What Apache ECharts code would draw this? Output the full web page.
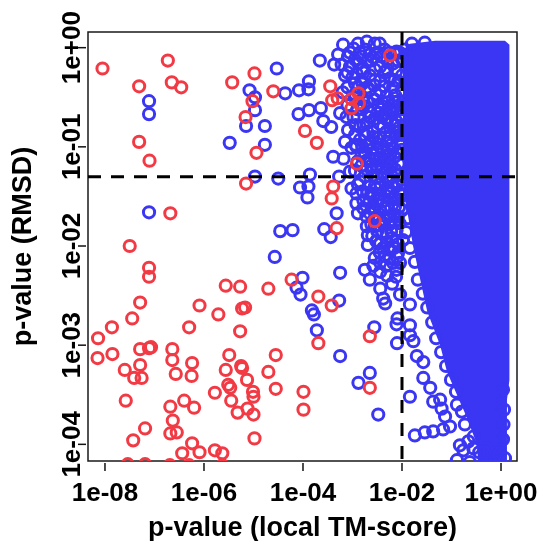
<!DOCTYPE html>
<html><head><meta charset="utf-8">
<script src="https://cdn.jsdelivr.net/npm/echarts@6/dist/echarts.min.js"></script>
<style>html,body{margin:0;padding:0;background:#fff}#c{width:542px;height:541px}</style>
</head><body><div id="c"></div>
<script>
// All values are log10(p-value)
const xTickVals = [-8, -6, -4, -2, 0];
const xTickLabels = ['1e-08', '1e-06', '1e-04', '1e-02', '1e+00'];
const yTickVals = [-4, -3, -2, -1, 0];
const yTickLabels = ['1e-04', '1e-03', '1e-02', '1e-01', '1e+00'];
const pCutoffTM = 0.01;
const pCutoffRMSD = 0.05;

// red circles: [log10 p(local TM-score), log10 p(RMSD)]
const redPts = [
[-8.05,-0.21],[-7.31,-0.39],[-6.73,-0.13],[-6.65,-0.35],[-6.46,-0.40],[-5.43,-0.35],[-4.98,-0.26],[-5.02,-0.54],[-5.16,-0.70],[-4.60,-0.44],
[-7.31,-0.95],[-7.10,-1.14],[-4.94,-1.06],[-5.15,-1.37],[-6.68,-1.67],[-7.50,-2.00],[-7.11,-2.22],[-7.11,-2.31],
[-5.56,-2.40],[-5.27,-2.41],[-4.70,-2.43],[-7.29,-2.57],[-6.09,-2.60],[-5.71,-2.69],[-5.23,-2.63],[-5.17,-2.62],[-7.45,-2.73],[-7.86,-2.82],[-6.30,-2.82],[-5.27,-2.86],[-8.14,-2.93],
[-7.29,-3.04],[-7.11,-3.03],[-7.07,-3.02],[-6.64,-3.04],[-8.15,-3.13],[-7.85,-3.09],[-6.64,-3.15],[-5.49,-3.10],[-4.55,-3.10],[-7.29,-3.20],[-6.24,-3.18],[-5.25,-3.21],[-5.23,-3.23],[-7.60,-3.25],[-5.56,-3.25],[-4.70,-3.27],[-7.41,-3.33],[-7.26,-3.33],[-6.57,-3.29],[-6.25,-3.31],[-5.13,-3.35],[-5.51,-3.40],[-5.47,-3.43],[-4.55,-3.44],[-5.78,-3.48],[-5.01,-3.47],[-5.00,-3.52],
[-7.58,-3.56],[-6.40,-3.56],[-5.45,-3.56],[-6.68,-3.62],[-6.20,-3.63],[-5.12,-3.64],[-5.32,-3.68],[-5.00,-3.70],[-6.63,-3.76],[-7.19,-3.84],[-6.68,-3.89],[-6.55,-3.88],[-4.98,-3.94],[-7.43,-3.96],[-6.24,-3.99],[-6.44,-4.09],[-6.09,-4.08],[-5.78,-4.06],[-5.63,-4.09],
[-7.54,-4.20],[-7.19,-4.20],[-6.69,-4.21],[-6.30,-4.21],[-5.63,-4.21],
[-3.96,-0.84],[-3.72,-0.96],[-3.45,-0.39],[-3.41,-0.53],[-3.30,-0.51],[-3.02,-0.52],[-2.88,-0.46],[-2.87,-0.56],[-3.02,-0.61],[-2.24,-0.08],[-2.91,-1.17],[-3.39,-1.40],[-3.42,-1.52],[-3.32,-1.82],[-2.55,-1.75],
[-4.23,-2.34],[-3.69,-2.51],[-3.42,-2.60],[-3.69,-2.98],[-2.65,-2.91],[-3.99,-3.47],[-3.99,-3.65],[-2.65,-3.43]
];

// blue circles that can be told apart
const bluePts = [
[-7.11,-0.54],[-7.11,-0.67],[-4.53,-0.21],[-5.08,-0.43],[-4.97,-0.50],[-4.97,-0.63],[-5.15,-0.79],[-4.77,-0.79],[-5.48,-0.96],[-4.77,-0.98],[-4.97,-1.30],[-4.50,-1.32],[-7.11,-1.66],[-4.46,-1.85],[-4.57,-2.11],
[-3.66,-0.13],[-4.36,-0.46],[-4.08,-0.43],[-3.89,-0.42],[-3.88,-0.34],[-4.09,-0.67],[-3.88,-0.63],[-3.64,-0.61],[-3.59,-0.74],[-3.43,-0.80],[-3.39,-1.10],[-3.25,-0.66],[-3.37,-0.17],[-3.29,-0.07],
[-3.86,-1.28],[-3.27,-1.30],[-4.06,-1.41],[-3.89,-1.40],[-3.91,-1.51],[-4.21,-1.84],[-3.57,-1.83],[-3.44,-1.91],[-3.32,-1.67],
[-3.25,-2.27],[-4.01,-2.32],[-4.13,-2.42],[-4.05,-2.49],[-3.27,-2.55],[-3.82,-2.65],[-3.78,-2.69],[-3.72,-2.85],[-3.25,-3.11],[-2.65,-3.28],[-2.88,-3.38],[-2.48,-3.70],[-2.56,-2.82],
[-3.02,-1.01],[-3.02,-1.42],[-2.89,-1.38],[-2.79,-1.45],[-2.62,-1.47],[-2.92,-1.57],[-2.89,-1.67],[-2.72,-1.70],[-2.55,-1.62],[-2.35,-1.74],[-2.69,-1.89],[-2.55,-1.80],[-2.69,-1.99],[-2.45,-2.06],[-2.08,-2.07],[-2.28,-1.35],[-2.15,-1.52],[-2.15,-1.69],[-1.88,-1.72],
[-2.75,-2.24],[-2.65,-2.34],[-2.44,-2.07],[-2.44,-2.17],[-2.38,-2.53],[-2.34,-2.58],[-2.20,-2.38],[-2.09,-2.73],[-2.11,-2.79],[-2.44,-2.26],[-2.44,-2.43],[-2.10,-2.98],[-2.11,-2.24],[-2.04,-2.17],[-2.04,-2.49],
[-1.84,-3.52],[-1.74,-3.91],[-1.57,-3.33],[-1.43,-3.43],[-1.37,-3.57],[-1.54,-3.88],[-1.37,-3.87],[-1.17,-3.85],[-1.77,-2.96],[-1.70,-3.11],[-1.84,-2.59],[-1.84,-2.80],[-1.84,-2.90],[-1.57,-3.17],[-1.20,-3.64],[-1.23,-3.55],[-0.89,-3.60],[-0.73,-3.80],[-1.13,-3.72],[-1.03,-3.82],[-0.83,-4.01],[-0.66,-3.97],[-0.56,-4.04],[-0.02,-4.09],[-0.29,-4.04],[-0.76,-4.06],[-0.02,-3.60],[0.05,-3.80],
[-0.89,-4.16],[-0.63,-4.18],[-0.32,-4.16],[-0.12,-4.18],[0.08,-4.14],
[-3.09,-0.83],[-2.35,-0.02],[-2.05,-0.05],
[-2.98,-0.01],[-2.75,-0.02],[-2.65,-0.07],[-2.11,-0.04],[-3.22,-0.17],[-3.05,-0.19],[-2.88,-0.16],[-2.71,-0.14],[-2.44,-0.19],[-2.18,-0.16],[-3.15,-0.28],[-2.92,-0.26],[-2.65,-0.28],[-2.44,-0.33],[-2.24,-0.31],[-2.07,-0.34],[-2.65,-0.43],[-2.44,-0.44],[-2.31,-0.49],[-2.14,-0.48],[-2.07,-0.54],[-2.78,-0.59],[-2.65,-0.65],[-2.48,-0.59],[-2.34,-0.66],[-2.18,-0.63],[-2.04,-0.68],[-2.98,-0.70],[-2.85,-0.80],[-2.71,-0.76],[-2.58,-0.85],[-2.38,-0.80],[-2.24,-0.85],[-2.07,-0.81],[-2.85,-0.93],[-2.65,-0.96],[-2.51,-1.03],[-2.31,-0.95],[-2.18,-1.01],[-2.04,-0.96],[-2.75,-1.06],[-2.65,-1.13],[-2.44,-1.11],[-2.24,-1.08],[-2.07,-1.17],[-2.71,-1.23],[-2.51,-1.20],[-2.31,-1.22],[-2.14,-1.23],[-2.85,-1.35],[-2.65,-1.40],[-2.44,-1.37],[-2.31,-1.43],[-2.11,-1.38],[-2.78,-1.54],[-2.58,-1.50],[-2.38,-1.55],[-2.65,-1.67],[-2.44,-1.64],[-2.24,-1.70],[-2.71,-1.80],[-2.31,-1.87],[-2.11,-1.84],[-2.44,-1.97],[-2.24,-2.04],[-2.18,-2.17],
[-2.95,-0.36],[-2.80,-0.36],[-2.56,-0.38],[-2.80,-0.52],[-2.56,-0.52],[-2.28,-0.55],[-2.90,-0.62],[-2.56,-0.72],[-2.30,-0.73],[-2.12,-0.74],[-2.95,-0.88],[-2.75,-0.88],[-2.45,-0.90],[-2.12,-0.89],[-2.80,-1.00],[-2.38,-1.03],[-2.10,-1.05],[-2.90,-1.15],[-2.55,-1.12],[-2.36,-1.15],[-2.95,-1.24],[-2.58,-1.29],[-2.40,-1.28],[-2.20,-1.30],[-2.52,-1.42],[-2.22,-1.45],[-2.66,-1.56],[-2.50,-1.58],[-2.30,-1.60],[-2.14,-1.60],[-2.55,-1.72],[-2.40,-1.76],[-2.14,-1.76],[-2.60,-1.90],[-2.40,-1.88],[-2.20,-1.92],[-2.08,-1.98],[-2.35,-2.10],[-2.58,-0.10],[-2.30,-0.22],[-2.80,-0.22],[-3.00,-0.30],[-3.10,-0.40],[-2.95,-0.50],[-3.12,-0.70],[-2.92,-1.00],
[-3.05,-0.05],[-2.85,-0.05],[-2.50,-0.05],[-2.25,-0.05],[-2.15,-0.06],
[-3.10,-0.25],[-2.78,-0.25],[-2.35,-0.25],[-2.12,-0.24],
[-2.88,-0.40],[-2.70,-0.40],[-2.35,-0.39],[-2.18,-0.40],
[-2.95,-0.47],[-2.52,-0.47],
[-2.80,-0.62],[-2.42,-0.62],[-2.25,-0.61],[-2.10,-0.62],
[-2.66,-0.70],[-2.40,-0.70],
[-2.94,-0.78],[-2.78,-0.78],[-2.45,-0.77],[-2.15,-0.78],
[-2.58,-0.90],[-2.25,-0.91],
[-2.94,-0.98],[-2.70,-0.98],[-2.50,-0.97],[-2.22,-0.98],
[-2.82,-1.09],[-2.58,-1.08],[-2.35,-1.09],[-2.15,-1.10],
[-2.82,-1.19],[-2.62,-1.19],[-2.40,-1.20],[-2.22,-1.18],
[-2.75,-1.30],[-2.50,-1.31],[-2.30,-1.30],[-2.08,-1.29],
[-2.92,-1.47],[-2.70,-1.47],[-2.45,-1.48],[-2.25,-1.47],[-2.06,-1.46],
[-2.78,-1.62],[-2.60,-1.63],[-2.36,-1.62],[-2.06,-1.61],
[-2.62,-1.78],[-2.45,-1.79],[-2.25,-1.78],[-2.05,-1.77],
[-2.52,-1.95],[-2.30,-1.96],[-2.12,-1.95],
[-2.55,-2.12],[-2.25,-2.12],[-2.10,-2.11],
[-2.30,-2.30],[-2.12,-2.31],
[-2.62,-0.13],[-2.30,-0.13],[-2.08,-0.13],
[-2.82,-0.33],[-2.55,-0.33],[-2.15,-0.33],
[-2.70,-0.55],[-2.40,-0.55],[-2.16,-0.55],
[-2.50,-0.66],[-2.22,-0.66],
[-2.70,-0.85],[-2.32,-0.85],[-2.14,-0.85],
[-2.62,-1.03],[-2.28,-1.03],
[-2.72,-1.14],[-2.48,-1.14],[-2.28,-1.14],
[-2.60,-1.25],
[-2.55,-1.40],[-2.20,-1.40],
[-2.50,-1.53],[-2.24,-1.53],[-2.08,-1.53],
[-2.50,-1.70],[-2.32,-1.70],[-2.08,-1.70],
[-2.50,-1.85],[-2.22,-1.85],
[-2.38,-2.02],[-2.16,-2.02],
[-2.32,-2.20],[-2.58,-2.20],
[-3.15,-0.95],[-3.18,-1.12],[-3.05,-1.25],[-3.10,-0.58],[-3.20,-0.45],
[-3.19,0.03],[-2.89,0.04],[-3.09,-0.09],[-2.81,-0.09],[-2.95,-0.12],[-2.42,-0.09],[-2.55,-0.22],[-2.71,0.06],[-2.55,0.04],[-2.45,0.04],
[-1.80,0.04],[-1.54,0.05],[-1.94,-0.02],
[-2.00,-0.12],[-2.00,-0.28],[-2.00,-0.43],[-2.00,-0.58],[-2.00,-0.73],[-2.00,-0.88],[-2.00,-1.03],[-2.00,-1.18],[-2.00,-1.33],[-1.99,-1.49],[-2.00,-1.64],[-1.98,-1.94],
[-1.92,-1.86],[-1.84,-2.02],[-1.74,-2.16],[-1.68,-2.34],[-1.58,-2.48],[-1.49,-2.62],[-1.39,-2.77],[-1.31,-2.93],[-1.21,-3.07],[-1.11,-3.21],[-1.01,-3.35],[-0.91,-3.47],[-0.79,-3.67],[-0.55,-3.92],[-0.44,-4.08],
[0.04,-3.45],[0.06,-3.65],[0.04,-3.95]
];

// outline of the region where blue circles overlap into a solid mass
const blobOutline = [
[-1.98,-0.02],[-1.84,0.04],[-1.33,0.07],[0.08,0.07],[0.17,0.03],[0.17,-3.35],[0.12,-3.55],[0.12,-4.26],[-0.46,-4.26],[-0.48,-4.01],[-0.69,-3.73],[-0.89,-3.50],[-1.09,-3.27],[-1.23,-3.00],[-1.49,-2.66],[-1.64,-2.32],[-1.78,-1.99],[-1.88,-1.69],[-1.96,-1.48],[-1.98,-1.28]
];

const X_MIN = -8.343, X_MAX = 0.323, Y_MIN = -4.168, Y_MAX = 0.158;
const BLUE = '#3a36f3', RED = '#f23a45';
const FONT = '"Liberation Sans", Arial, sans-serif';

function ringSeries(data, color) {
  return {
    type: 'custom', coordinateSystem: 'cartesian2d', data: data, clip: true,
    silent: true, animation: false, encode: {x: 0, y: 1},
    renderItem: function (params, api) {
      const p = api.coord([api.value(0), api.value(1)]);
      return {type: 'circle', shape: {cx: p[0], cy: p[1], r: 5.6},
        style: {fill: 'none', stroke: color, lineWidth: 3}};
    }
  };
}

function tickSeries(vals, isX) {
  return {
    type: 'custom', coordinateSystem: 'cartesian2d', clip: false, silent: true, animation: false,
    data: vals.map(v => isX ? [v, Y_MIN] : [X_MIN, v]), encode: {x: 0, y: 1},
    renderItem: function (params, api) {
      const p = api.coord([api.value(0), api.value(1)]);
      const shape = isX ? {x1: p[0], y1: p[1] + 2, x2: p[0], y2: p[1] + 10}
                        : {x1: p[0] - 2, y1: p[1], x2: p[0] - 10, y2: p[1]};
      return {type: 'line', shape: shape, style: {stroke: '#111', lineWidth: 1.5}};
    }
  };
}

const option = {
  animation: false,
  backgroundColor: '#fff',
  grid: {left: 88, top: 32, width: 429, height: 429, show: true, borderColor: '#1a1a1a', borderWidth: 1.5,
    backgroundColor: 'transparent', containLabel: false, outerBoundsMode: 'none'},
  xAxis: {
    type: 'value', min: X_MIN, max: X_MAX, offset: 2,
    axisLine: {show: false}, splitLine: {show: false}, axisTick: {show: false},
    axisLabel: {customValues: xTickVals, formatter: v => xTickLabels[xTickVals.indexOf(v)], margin: 18,
      color: '#000', fontSize: 26, fontWeight: 'bold', fontFamily: FONT},
    name: 'p-value (local TM-score)', nameLocation: 'middle', nameGap: 52,
    nameTextStyle: {color: '#000', fontSize: 27, fontWeight: 'bold', fontFamily: FONT}
  },
  yAxis: {
    type: 'value', min: Y_MIN, max: Y_MAX, offset: 2,
    axisLine: {show: false}, splitLine: {show: false}, axisTick: {show: false},
    axisLabel: {customValues: yTickVals, formatter: v => yTickLabels[yTickVals.indexOf(v)], margin: 0, rotate: 90,
      color: '#000', fontSize: 26, fontWeight: 'bold', fontFamily: FONT},
    name: 'p-value (RMSD)', nameLocation: 'middle', nameGap: 49,
    nameTextStyle: {color: '#000', fontSize: 27, fontWeight: 'bold', fontFamily: FONT}
  },
  series: [
    {
      type: 'custom', coordinateSystem: 'cartesian2d', data: [blobOutline[0]], clip: true,
      silent: true, animation: false, encode: {x: 0, y: 1},
      renderItem: function (params, api) {
        return {type: 'polygon', shape: {points: blobOutline.map(p => api.coord(p))}, style: {fill: BLUE}};
      }
    },
    ringSeries(bluePts, BLUE),
    ringSeries(redPts, RED),
    {
      type: 'custom', coordinateSystem: 'cartesian2d', data: [[Math.log10(pCutoffTM), Math.log10(pCutoffRMSD)]],
      clip: true, silent: true, animation: false, encode: {x: 0, y: 1},
      renderItem: function (params, api) {
        const xv = api.value(0), yv = api.value(1);
        const h0 = api.coord([X_MIN, yv]), h1 = api.coord([X_MAX, yv]);
        const v0 = api.coord([xv, Y_MAX]), v1 = api.coord([xv, Y_MIN]);
        const st = {stroke: '#000', lineWidth: 3, lineDash: [13, 10], fill: 'none'};
        return {type: 'group', children: [
          {type: 'line', shape: {x1: h0[0], y1: h0[1], x2: h1[0], y2: h1[1]}, style: st},
          {type: 'line', shape: {x1: v0[0], y1: v0[1], x2: v1[0], y2: v1[1]}, style: st}
        ]};
      }
    },
    tickSeries(xTickVals, true),
    tickSeries(yTickVals, false)
  ]
};

const chart = echarts.init(document.getElementById('c'), null, {renderer: 'canvas'});
chart.setOption(option);
</script>
</body></html>
